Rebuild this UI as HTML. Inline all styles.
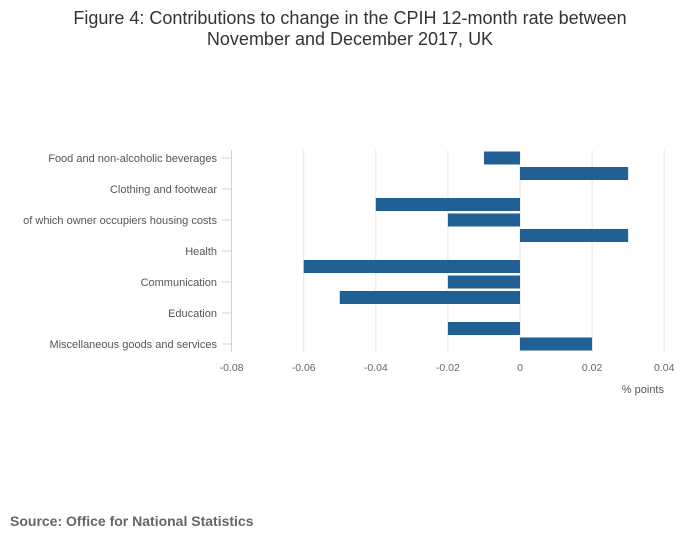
<!DOCTYPE html>
<html><head><meta charset="utf-8"><style>
body{margin:0;background:#fff;width:700px;height:549px;overflow:hidden;font-family:"Liberation Sans",sans-serif}
</style></head><body>
<svg width="700" height="549">
<text x="350" y="24" text-anchor="middle" font-size="18" fill="#333">Figure 4: Contributions to change in the CPIH 12-month rate between</text>
<text x="350" y="45" text-anchor="middle" font-size="18" fill="#333">November and December 2017, UK</text>
<g id="grid"></g><g id="bars"></g><g id="yax"></g><g id="xax"></g>
<text x="664" y="393" text-anchor="end" font-size="11" fill="#555">% points</text>
<text x="10" y="526" font-size="14" font-weight="bold" fill="#666">Source: Office for National Statistics</text>
</svg>
<script>
const categories=["Food and non-alcoholic beverages","Alcohol and tobacco","Clothing and footwear","Housing and household services","of which owner occupiers housing costs","Furniture and household goods","Health","Transport","Communication","Recreation and culture","Education","Restaurants and hotels","Miscellaneous goods and services"];
const values=[-0.01,0.03,0,-0.04,-0.02,0.03,0,-0.06,-0.02,-0.05,0,-0.02,0.02];
const xTicks=[-0.08,-0.06,-0.04,-0.02,0,0.02,0.04];
const xTickLabels=["-0.08","-0.06","-0.04","-0.02","0","0.02","0.04"];
const NS="http://www.w3.org/2000/svg";
const x=v=>520+v/0.02*72.1;
const y=i=>158+i*15.5;
function mk(t,a,p){const e=document.createElementNS(NS,t);for(const k in a)e.setAttribute(k,a[k]);document.getElementById(p).appendChild(e);return e;}
xTicks.forEach((t,i)=>{
 const g=mk('line',{x1:x(t),x2:x(t),y1:150,y2:352,stroke:'#e6e6e6','stroke-width':1},'grid');
 
 
 const l=mk('text',{x:x(t),y:371,'text-anchor':'middle','font-size':10.5,fill:'#666'},'xax');
 l.textContent=xTickLabels[i];
 
 
});
categories.forEach((c,i)=>{
 const v=values[i];
 const r=mk('rect',{x:Math.min(x(v),x(0)),y:y(i)-6.5,width:Math.abs(x(v)-x(0)),height:13,fill:'#206095'},'bars');
 
 
 if(i%2===0){
  const tk=mk('line',{x1:222,x2:231,y1:y(i),y2:y(i),stroke:'#c8d3ea','stroke-width':1},'yax');
  
  
  const t=mk('text',{x:217,y:y(i)+4,'text-anchor':'end','font-size':11,fill:'#555'},'yax');
  t.textContent=c;
  
  
 }
});
const ax=mk('line',{x1:231.5,x2:231.5,y1:150,y2:352,stroke:'#c8d3ea','stroke-width':1},'yax');


</script>
</body></html>
